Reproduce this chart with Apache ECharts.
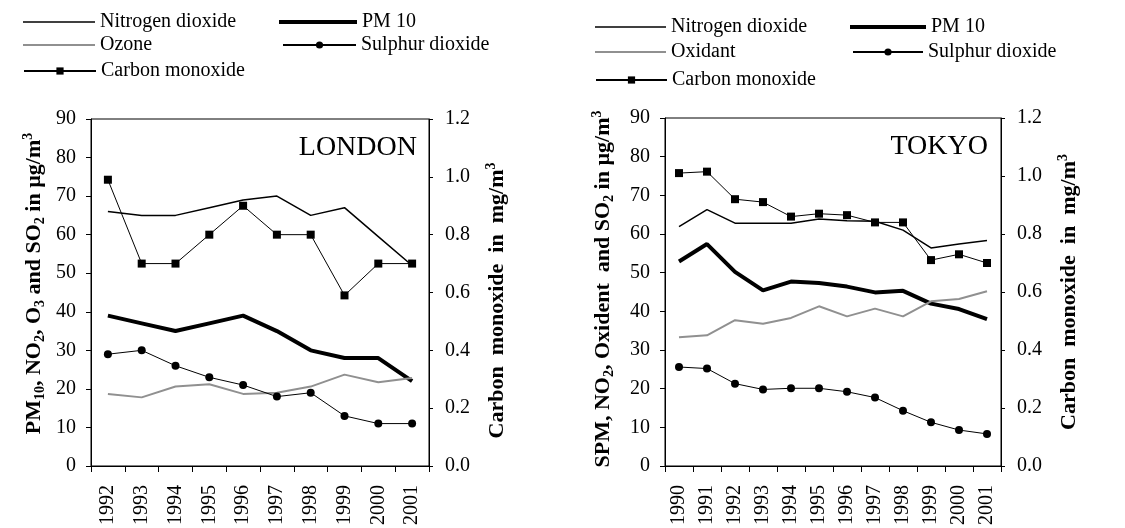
<!DOCTYPE html>
<html>
<head>
<meta charset="utf-8">
<script src="https://cdn.jsdelivr.net/npm/echarts@6/dist/echarts.min.js"></script>
<style>
  html, body { margin: 0; padding: 0; background: #fff; }
  #chart { width: 1125px; height: 528px; }
</style>
</head>
<body>
<div id="chart"></div>
<script>
// London data (1992-2001)
var londonYears = ['1992', '1993', '1994', '1995', '1996', '1997', '1998', '1999', '2000', '2001'];
var londonNO2 = [66, 65, 65, 67, 69, 70, 65, 67, 59.5, 52];
var londonPM10 = [39, 37, 35, 37, 39, 35, 30, 28, 28, 22];
var londonO3 = [18.7, 17.8, 20.6, 21.2, 18.7, 19, 20.6, 23.7, 21.7, 22.8];
var londonSO2 = [29, 30, 26, 23, 21, 18, 19, 13, 11, 11];
var londonCO = [0.99, 0.7, 0.7, 0.8, 0.9, 0.8, 0.8, 0.59, 0.7, 0.7];

// Tokyo data (1990-2001)
var tokyoYears = ['1990', '1991', '1992', '1993', '1994', '1995', '1996', '1997', '1998', '1999', '2000', '2001'];
var tokyoNO2 = [61.9, 66.3, 62.8, 62.8, 62.8, 63.9, 63.4, 63.3, 61, 56.4, 57.4, 58.3];
var tokyoSPM = [52.9, 57.4, 50.2, 45.4, 47.7, 47.3, 46.4, 44.9, 45.3, 42, 40.6, 38];
var tokyoOx = [33.3, 33.8, 37.7, 36.8, 38.3, 41.3, 38.7, 40.7, 38.7, 42.6, 43.2, 45.2];
var tokyoSO2 = [25.6, 25.2, 21.3, 19.8, 20.1, 20.1, 19.2, 17.7, 14.3, 11.3, 9.3, 8.3];
var tokyoCO = [1.01, 1.015, 0.92, 0.91, 0.86, 0.87, 0.865, 0.84, 0.84, 0.71, 0.73, 0.70];

var FONT = "'Liberation Serif', 'Times New Roman', serif";
var GRAY = '#909090';

// rich styles for axis names with sub/superscripts
var nameRich = {
  b: { fontFamily: FONT, fontSize: 22, fontWeight: 'bold', color: '#000', lineHeight: 26 },
  s: { fontFamily: FONT, fontSize: 14, fontWeight: 'bold', color: '#000', lineHeight: 14, verticalAlign: 'bottom' },
  p: { fontFamily: FONT, fontSize: 14, fontWeight: 'bold', color: '#000', lineHeight: 14, verticalAlign: 'top' }
};

function xAxisFor(grid, data) {
  return {
    type: 'category',
    gridIndex: grid,
    data: data,
    boundaryGap: true,
    axisLine: { lineStyle: { color: '#000', width: 1 } },
    axisTick: { show: true, length: 6, lineStyle: { color: '#000' } },
    axisLabel: { rotate: 90, margin: 19, color: '#000', fontFamily: FONT, fontSize: 20 }
  };
}

// pad shifts the rotated name along the axis
function leftAxis(grid, name, gap, pad) {
  return {
    type: 'value',
    gridIndex: grid,
    position: 'left',
    min: 0, max: 90, interval: 10,
    name: name,
    nameLocation: 'middle',
    nameGap: gap,
    nameTextStyle: { rich: nameRich, padding: pad },
    axisLine: { show: true, lineStyle: { color: '#000', width: 1 } },
    axisTick: { show: true, length: 5, lineStyle: { color: '#000' } },
    axisLabel: { margin: 15, color: '#000', fontFamily: FONT, fontSize: 20 },
    splitLine: { show: false }
  };
}

function rightAxis(grid, gap, pad) {
  return {
    type: 'value',
    gridIndex: grid,
    position: 'right',
    min: 0, max: 1.2, interval: 0.2,
    name: '{b|Carbon  monoxide  in  mg/m}{p|3}',
    nameLocation: 'middle',
    nameGap: gap,
    nameTextStyle: { rich: nameRich, padding: pad },
    axisLine: { show: true, lineStyle: { color: '#000', width: 1 } },
    axisTick: { show: true, length: 4, lineStyle: { color: '#000' } },
    axisLabel: {
      margin: 16, color: '#000', fontFamily: FONT, fontSize: 20,
      formatter: function (v) { return v.toFixed(1); }
    },
    splitLine: { show: false }
  };
}

function lineSeries(name, x, y, data, color, width, symbol) {
  return {
    name: name,
    type: 'line',
    xAxisIndex: x,
    yAxisIndex: y,
    data: data,
    symbol: symbol || 'none',
    symbolSize: 8,
    showSymbol: !!symbol,
    color: color,
    itemStyle: { color: color },
    lineStyle: { color: color, width: width }
  };
}

// one legend block per entry, so they sit like the original two-column key
function legendItem(name, left, top, w, lineH) {
  var l = {
    data: [name],
    left: left,
    top: top,
    itemWidth: w,
    itemHeight: lineH ? lineH : 9,
    textStyle: { fontFamily: FONT, fontSize: 20, color: '#000' },
    selectedMode: false
  };
  if (lineH) l.icon = 'rect';
  return l;
}

var option = {
  animation: false,
  backgroundColor: '#fff',
  title: [
    { text: 'LONDON', right: 703, top: 129, textStyle: { fontFamily: FONT, fontSize: 28, fontWeight: 'normal', color: '#000' } },
    { text: 'TOKYO', right: 132, top: 128, textStyle: { fontFamily: FONT, fontSize: 28, fontWeight: 'normal', color: '#000' } }
  ],
  legend: [
    legendItem('Nitrogen dioxide', 18, 7, 72, 1.5),
    legendItem('PM 10', 274, 7, 78, 4),
    legendItem('Ozone', 18, 30, 72, 2),
    legendItem('Sulphur dioxide', 277, 30, 73),
    legendItem('Carbon monoxide', 18, 56, 72),

    legendItem('Nitrogen dioxide', 590, 12, 71, 1.5),
    legendItem('PM 10', 845, 12, 76, 4),
    legendItem('Oxidant', 590, 37, 71, 2),
    legendItem('Sulphur dioxide', 847, 37, 70),
    legendItem('Carbon monoxide', 590, 65, 71)
  ],
  grid: [
    { left: 91, top: 119, width: 338, height: 348, show: true, borderColor: '#000', borderWidth: 1, backgroundColor: 'transparent' },
    { left: 665, top: 118, width: 336, height: 349, show: true, borderColor: '#000', borderWidth: 1, backgroundColor: 'transparent' }
  ],
  xAxis: [
    xAxisFor(0, londonYears),
    xAxisFor(1, tokyoYears)
  ],
  yAxis: [
    leftAxis(0, '{b|PM}{s|10}{b|, NO}{s|2}{b|, O}{s|3}{b| and SO}{s|2}{b| in µg/m}{p|3}', 44, [0, 0, 0, 18]),
    rightAxis(0, 55, [0, 16, 0, 0]),
    leftAxis(1, '{b|SPM, NO}{s|2}{b|, Oxident  and SO}{s|2}{b| in µg/m}{p|3}', 49, [0, 0, 0, 6]),
    rightAxis(1, 55, [0, 0, 0, 0])
  ],
  series: [
    lineSeries('Nitrogen dioxide', 0, 0, londonNO2, '#000', 1.5),
    lineSeries('PM 10', 0, 0, londonPM10, '#000', 4),
    lineSeries('Ozone', 0, 0, londonO3, GRAY, 2),
    lineSeries('Sulphur dioxide', 0, 0, londonSO2, '#000', 1, 'circle'),
    lineSeries('Carbon monoxide', 0, 1, londonCO, '#000', 1, 'rect'),

    lineSeries('Nitrogen dioxide', 1, 2, tokyoNO2, '#000', 1.5),
    lineSeries('PM 10', 1, 2, tokyoSPM, '#000', 4),
    lineSeries('Oxidant', 1, 2, tokyoOx, GRAY, 2),
    lineSeries('Sulphur dioxide', 1, 2, tokyoSO2, '#000', 1, 'circle'),
    lineSeries('Carbon monoxide', 1, 3, tokyoCO, '#000', 1, 'rect')
  ]
};

var myChart = echarts.init(document.getElementById('chart'));
myChart.setOption(option);
</script>
</body>
</html>
